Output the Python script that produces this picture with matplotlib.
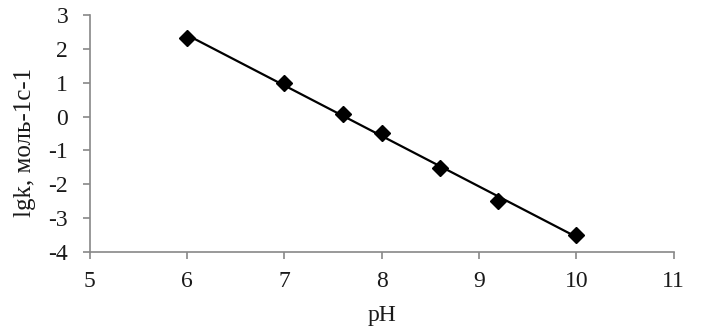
import matplotlib
matplotlib.use("Agg")
import matplotlib.pyplot as plt
import numpy as np

pH = [6, 7, 7.6, 8, 8.6, 9.2, 10]
lgk = [2.32, 1.0, 0.08, -0.5, -1.52, -2.5, -3.5]
x_ticks = [5, 6, 7, 8, 9, 10, 11]
y_ticks = [-4, -3, -2, -1, 0, 1, 2, 3]

plt.rcParams['font.family'] = ['Liberation Serif', 'DejaVu Serif']

fig = plt.figure(figsize=(7.01, 3.34), dpi=100)
ax = fig.add_axes([0.128, 0.246, 0.833, 0.709])

coef = np.polyfit(pH, lgk, 1)
xl = np.array([min(pH), max(pH)])
ax.plot(xl, np.polyval(coef, xl), color='black', lw=1.6, zorder=2)
ax.plot(pH, lgk, linestyle='none', marker='D', color='black', markersize=8, zorder=3)

ax.set_xlim(5, 11)
ax.set_ylim(-4, 3)
ax.set_xticks(x_ticks)
ax.set_yticks(y_ticks)
ax.set_xticklabels([str(v) for v in x_ticks])
ax.set_yticklabels([str(v) for v in y_ticks])

for s in ['top', 'right']:
    ax.spines[s].set_visible(False)
for s in ['left', 'bottom']:
    ax.spines[s].set_color('#888888')
    ax.spines[s].set_linewidth(1.2)
ax.tick_params(axis='both', colors='#888888', length=5, width=1.2, direction='out',
               labelcolor='#1a1a1a', labelsize=17)
ax.tick_params(axis='x', pad=8.5)
ax.tick_params(axis='y', pad=10.5)

ax.set_xlabel('pH', fontsize=17, color='#1a1a1a', labelpad=10)
ax.set_ylabel('lgk, моль-1с-1', fontsize=18, color='#1a1a1a', labelpad=9)
ax.yaxis.label.set_y(0.464)

fig.savefig('out.png', dpi=100)
